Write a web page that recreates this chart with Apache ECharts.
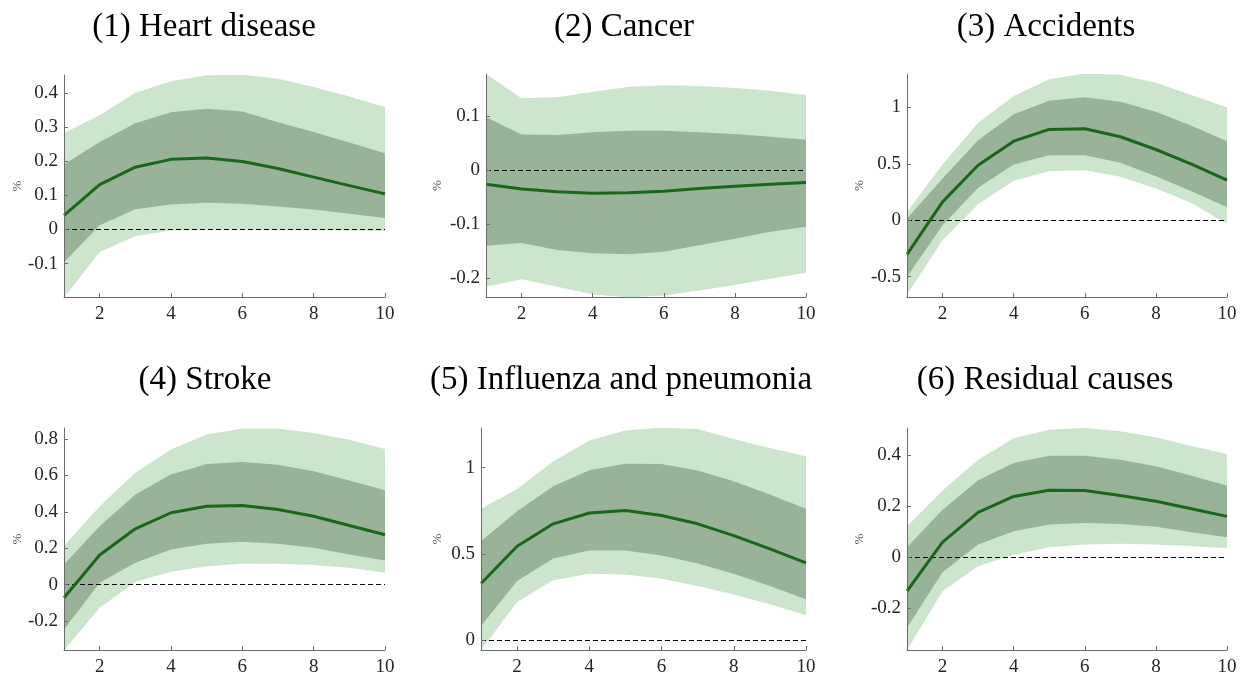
<!DOCTYPE html>
<html>
<head>
<meta charset="utf-8">
<script src="https://cdn.jsdelivr.net/npm/echarts@6/dist/echarts.min.js"></script>
<style>
html,body{margin:0;padding:0;background:#fff;}
#chart{width:1246px;height:681px;}
</style>
</head>
<body>
<div id="chart"></div>
<script>
// ---- data ----
const horizons = [1, 2, 3, 4, 5, 6, 7, 8, 9, 10];
const xTicks = [2, 4, 6, 8, 10];

const titles = ['(1) Heart disease', '(2) Cancer', '(3) Accidents', '(4) Stroke', '(5) Influenza and pneumonia', '(6) Residual causes'];

// Panel 1: Heart disease
const p1Line    = [0.041, 0.131, 0.182, 0.205, 0.209, 0.199, 0.178, 0.153, 0.128, 0.104];
const p1DarkHi  = [0.190, 0.256, 0.311, 0.343, 0.353, 0.345, 0.314, 0.285, 0.254, 0.223];
const p1DarkLo  = [-0.096, 0.012, 0.059, 0.073, 0.078, 0.075, 0.067, 0.058, 0.046, 0.033];
const p1LightHi = [0.282, 0.334, 0.400, 0.434, 0.451, 0.453, 0.441, 0.417, 0.389, 0.358];
const p1LightLo = [-0.200, -0.066, -0.020, -0.003, -0.001, -0.001, -0.002, -0.002, -0.003, -0.004];
const p1Ticks   = [-0.1, 0, 0.1, 0.2, 0.3, 0.4];

// Panel 2: Cancer
const p2Line    = [-0.026, -0.035, -0.040, -0.043, -0.042, -0.039, -0.034, -0.030, -0.026, -0.023];
const p2DarkHi  = [0.098, 0.066, 0.065, 0.070, 0.073, 0.073, 0.070, 0.067, 0.062, 0.056];
const p2DarkLo  = [-0.140, -0.135, -0.148, -0.154, -0.156, -0.151, -0.139, -0.127, -0.114, -0.105];
const p2LightHi = [0.178, 0.133, 0.135, 0.145, 0.154, 0.157, 0.156, 0.152, 0.147, 0.139];
const p2LightLo = [-0.216, -0.202, -0.216, -0.230, -0.236, -0.232, -0.223, -0.213, -0.201, -0.190];
const p2Ticks   = [-0.2, -0.1, 0, 0.1];

// Panel 3: Accidents
const p3Line    = [-0.302, 0.163, 0.488, 0.701, 0.805, 0.811, 0.740, 0.627, 0.497, 0.355];
const p3DarkHi  = [0.015, 0.370, 0.710, 0.940, 1.059, 1.089, 1.050, 0.962, 0.837, 0.701];
const p3DarkLo  = [-0.503, -0.044, 0.287, 0.494, 0.577, 0.577, 0.509, 0.391, 0.257, 0.118];
const p3LightHi = [0.074, 0.494, 0.864, 1.100, 1.249, 1.300, 1.290, 1.219, 1.109, 1.000];
const p3LightLo = [-0.660, -0.178, 0.142, 0.349, 0.435, 0.444, 0.385, 0.281, 0.154, -0.030];
const p3Ticks   = [-0.5, 0, 0.5, 1];

// Panel 4: Stroke
const p4Line    = [-0.071, 0.163, 0.307, 0.395, 0.431, 0.435, 0.413, 0.376, 0.325, 0.274];
const p4DarkHi  = [0.111, 0.321, 0.495, 0.605, 0.663, 0.674, 0.659, 0.623, 0.572, 0.519];
const p4DarkLo  = [-0.245, 0.011, 0.121, 0.194, 0.225, 0.236, 0.225, 0.203, 0.166, 0.133];
const p4LightHi = [0.212, 0.431, 0.614, 0.742, 0.824, 0.857, 0.857, 0.833, 0.796, 0.745];
const p4LightLo = [-0.360, -0.126, 0.015, 0.071, 0.102, 0.115, 0.115, 0.108, 0.093, 0.066];
const p4Ticks   = [-0.2, 0, 0.2, 0.4, 0.6, 0.8];

// Panel 5: Influenza and pneumonia
const p5Line    = [0.328, 0.544, 0.674, 0.737, 0.751, 0.722, 0.674, 0.606, 0.529, 0.448];
const p5DarkHi  = [0.573, 0.747, 0.892, 0.985, 1.023, 1.021, 0.983, 0.921, 0.844, 0.761];
const p5DarkLo  = [0.081, 0.342, 0.473, 0.519, 0.519, 0.490, 0.444, 0.384, 0.313, 0.236];
const p5LightHi = [0.761, 0.876, 1.037, 1.158, 1.216, 1.232, 1.224, 1.166, 1.114, 1.066];
const p5LightLo = [-0.060, 0.220, 0.346, 0.384, 0.380, 0.355, 0.313, 0.264, 0.207, 0.143];
const p5Ticks   = [0, 0.5, 1];

// Panel 6: Residual causes
const p6Line    = [-0.133, 0.059, 0.176, 0.238, 0.262, 0.261, 0.242, 0.219, 0.190, 0.160];
const p6DarkHi  = [0.039, 0.186, 0.301, 0.369, 0.397, 0.397, 0.382, 0.356, 0.319, 0.281];
const p6DarkLo  = [-0.276, -0.059, 0.050, 0.102, 0.128, 0.134, 0.130, 0.119, 0.098, 0.078];
const p6LightHi = [0.121, 0.261, 0.382, 0.466, 0.499, 0.506, 0.493, 0.470, 0.436, 0.404];
const p6LightLo = [-0.363, -0.133, -0.035, 0.010, 0.039, 0.050, 0.053, 0.050, 0.043, 0.036];
const p6Ticks   = [-0.2, 0, 0.2, 0.4];

// ---- layout / style ----
const panels = [
  {line: p1Line, dHi: p1DarkHi, dLo: p1DarkLo, lHi: p1LightHi, lLo: p1LightLo, ticks: p1Ticks, ymin: -0.198, ymax: 0.452, grid: {left: 64, top: 75, width: 321, height: 222}, tx: 204, ty: 27, px: 18},
  {line: p2Line, dHi: p2DarkHi, dLo: p2DarkLo, lHi: p2LightHi, lLo: p2LightLo, ticks: p2Ticks, ymin: -0.235, ymax: 0.178, grid: {left: 486, top: 74, width: 320, height: 223}, tx: 624, ty: 27, px: 438},
  {line: p3Line, dHi: p3DarkHi, dLo: p3DarkLo, lHi: p3LightHi, lLo: p3LightLo, ticks: p3Ticks, ymin: -0.68, ymax: 1.296, grid: {left: 907, top: 74, width: 320, height: 223}, tx: 1046, ty: 27, px: 860},
  {line: p4Line, dHi: p4DarkHi, dLo: p4DarkLo, lHi: p4LightHi, lLo: p4LightLo, ticks: p4Ticks, ymin: -0.358, ymax: 0.86, grid: {left: 64, top: 428, width: 321, height: 222}, tx: 205, ty: 380, px: 18},
  {line: p5Line, dHi: p5DarkHi, dLo: p5DarkLo, lHi: p5LightHi, lLo: p5LightLo, ticks: p5Ticks, ymin: -0.058, ymax: 1.23, grid: {left: 481, top: 428, width: 325, height: 222}, tx: 621, ty: 380, px: 438},
  {line: p6Line, dHi: p6DarkHi, dLo: p6DarkLo, lHi: p6LightHi, lLo: p6LightLo, ticks: p6Ticks, ymin: -0.363, ymax: 0.506, grid: {left: 907, top: 428, width: 320, height: 222}, tx: 1045, ty: 380, px: 860}
];

const FONT = '"Liberation Serif", "Times New Roman", serif';
const AXIS_COLOR = '#6b6b6b';
const LABEL_COLOR = '#262626';
const LIGHT = '#cce5cc';
const DARK = '#99b399';
const LINE = '#1a661a';

const grids = [], xAxes = [], yAxes = [], series = [], graphics = [];

panels.forEach((p, i) => {
  grids.push(Object.assign({containLabel: false}, p.grid));
  xAxes.push({
    gridIndex: i, type: 'value', min: 1, max: 10, z: 10,
    axisLine: {show: true, onZero: false, lineStyle: {color: AXIS_COLOR, width: 1}},
    axisTick: {show: true, inside: true, length: 4, customValues: xTicks, lineStyle: {color: AXIS_COLOR}},
    axisLabel: {customValues: xTicks, fontFamily: FONT, fontSize: 19, color: LABEL_COLOR, margin: 8},
    splitLine: {show: false}
  });
  yAxes.push({
    gridIndex: i, type: 'value', min: p.ymin, max: p.ymax, z: 10,
    axisLine: {show: true, onZero: false, lineStyle: {color: AXIS_COLOR, width: 1}},
    axisTick: {show: true, inside: true, length: 4, customValues: p.ticks, lineStyle: {color: AXIS_COLOR}},
    axisLabel: {customValues: p.ticks, fontFamily: FONT, fontSize: 19, color: LABEL_COLOR, margin: 6,
      formatter: v => String(v)},
    splitLine: {show: false}
  });
  const band = (lo, hi, color, z) => {
    series.push({
      type: 'custom', xAxisIndex: i, yAxisIndex: i, clip: true, silent: true, z: z,
      data: horizons.map((h, k) => [h, lo[k], hi[k]]),
      encode: {x: 0, y: [1, 2]},
      renderItem: function (params, api) {
        if (params.dataIndex !== 0) return null;
        const pts = [];
        for (let k = 0; k < horizons.length; k++) pts.push(api.coord([horizons[k], hi[k]]));
        for (let k = horizons.length - 1; k >= 0; k--) pts.push(api.coord([horizons[k], lo[k]]));
        return {
          type: 'polygon',
          shape: {points: pts},
          style: {fill: color, stroke: null}
        };
      }
    });
  };
  band(p.lLo, p.lHi, LIGHT, 1);
  band(p.dLo, p.dHi, DARK, 2);
  series.push({
    type: 'line', xAxisIndex: i, yAxisIndex: i,
    data: horizons.map((h, k) => [h, p.line[k]]), symbol: 'none', silent: true,
    lineStyle: {color: LINE, width: 3}, z: 4,
    markLine: {
      silent: true, symbol: 'none', animation: false, z: 3,
      label: {show: false},
      lineStyle: {color: '#000', width: 1, type: [5, 3]},
      data: [{yAxis: 0}]
    }
  });
  graphics.push({
    type: 'text', x: p.tx, y: p.ty,
    style: {text: titles[i], font: '33px ' + FONT, fill: '#000', textAlign: 'center', textVerticalAlign: 'middle', align: 'center', verticalAlign: 'middle'}
  });
  graphics.push({
    type: 'text', x: p.px, y: p.grid.top + p.grid.height / 2, rotation: Math.PI / 2,
    style: {text: '%', font: '13px ' + FONT, fill: '#555', textAlign: 'center', textVerticalAlign: 'middle', align: 'center', verticalAlign: 'middle'}
  });
});

const chart = echarts.init(document.getElementById('chart'), null, {renderer: 'canvas'});
chart.setOption({
  animation: false,
  backgroundColor: '#fff',
  grid: grids,
  xAxis: xAxes,
  yAxis: yAxes,
  series: series,
  graphic: graphics
});
</script>
</body>
</html>
